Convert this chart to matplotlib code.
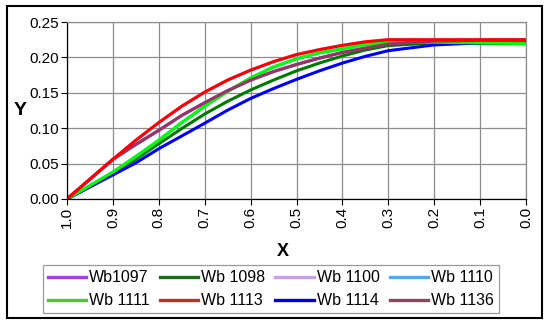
import matplotlib
matplotlib.use("Agg")
import matplotlib.pyplot as plt
from matplotlib.patches import Rectangle
from matplotlib.lines import Line2D

plt.rcParams['font.family'] = ['Liberation Sans', 'DejaVu Sans']

x = [1.0, 0.9, 0.85, 0.8, 0.75, 0.7, 0.65, 0.6, 0.55, 0.5, 0.45, 0.4, 0.35, 0.3, 0.2, 0.1, 0.0]
wb1113 = [0, 0.056, 0.083, 0.108, 0.131, 0.151, 0.168, 0.182, 0.194, 0.204, 0.211, 0.217, 0.222, 0.225, 0.225, 0.225, 0.225]
wb1111 = [0, 0.038, 0.060, 0.083, 0.108, 0.131, 0.152, 0.171, 0.1865, 0.198, 0.2065, 0.212, 0.218, 0.222, 0.2215, 0.2205, 0.2195]
wb1136 = [0, 0.056, 0.077, 0.097, 0.118, 0.136, 0.153, 0.168, 0.180, 0.190, 0.199, 0.207, 0.213, 0.219, 0.223, 0.224, 0.2243]
wb1098 = [0, 0.035, 0.056, 0.078, 0.0995, 0.120, 0.138, 0.154, 0.168, 0.181, 0.192, 0.202, 0.2105, 0.2167, 0.2205, 0.2195, 0.2195]
wb1114 = [0, 0.034, 0.051, 0.071, 0.089, 0.107, 0.1255, 0.142, 0.156, 0.169, 0.181, 0.192, 0.2015, 0.2095, 0.2176, 0.2205, 0.2214]
# series hidden beneath the visible curves
wb1097 = list(wb1136)
wb1100 = list(wb1113)
wb1110 = list(wb1111)

xticks = [1.0, 0.9, 0.8, 0.7, 0.6, 0.5, 0.4, 0.3, 0.2, 0.1, 0.0]
yticks = [0.00, 0.05, 0.10, 0.15, 0.20, 0.25]

W, H = 550, 327
fig = plt.figure(figsize=(5.5, 3.27), dpi=100)
fig.patch.set_facecolor('white')
fig.patches.append(Rectangle((7 / W, 1 - 318 / H), 535 / W, 312 / H, transform=fig.transFigure,
                             fill=False, edgecolor='black', linewidth=1.5, zorder=0))

ax = fig.add_axes([67 / W, 1 - 199 / H, (526 - 67) / W, (199 - 22) / H])

lw = 2.2
series = [
    ("Wb1097", wb1097, '#A040E0'),
    ("Wb 1100", wb1100, '#C8A0E8'),
    ("Wb 1110", wb1110, '#40A8F0'),
    ("Wb 1098", wb1098, '#007A00'),
    ("Wb 1114", wb1114, '#0000FF'),
    ("Wb 1111", wb1111, '#00FF00'),
    ("Wb 1136", wb1136, '#993366'),
    ("Wb 1113", wb1113, '#FF0000'),
]
for name, ys, c in series:
    ax.plot(x, ys, color=c, linewidth=lw, solid_capstyle='butt', solid_joinstyle='round')

ax.set_xlim(1.0, 0.0)
ax.set_ylim(0, 0.25)
ax.set_xticks(xticks)
ax.set_xticklabels([f"{v:.1f}" for v in xticks], rotation=90, fontsize=11)
ax.set_yticks(yticks)
ax.set_yticklabels([f"{v:.2f}" for v in yticks], fontsize=11)
ax.grid(True, color='#8c8c8c', linewidth=0.9)
ax.set_axisbelow(True)
ax.tick_params(direction='out', length=4, width=0.8, color='black', pad=2)
for s in ['top', 'right']:
    ax.spines[s].set_color('#8c8c8c')
    ax.spines[s].set_linewidth(0.9)
for s in ['left', 'bottom']:
    ax.spines[s].set_color('black')
    ax.spines[s].set_linewidth(0.9)

fig.text(20 / W, 1 - 110 / H, "Y", fontsize=14, fontweight='bold', ha='center', va='center')
fig.text(283 / W, 1 - 251 / H, "X", fontsize=13, fontweight='bold', ha='center', va='center')

order = ["Wb1097", "Wb 1111", "Wb 1098", "Wb 1113", "Wb 1100", "Wb 1114", "Wb 1110", "Wb 1136"]
leg_colors = {"Wb1097": '#A040E0', "Wb 1098": '#1E6B1E', "Wb 1100": '#C8A0E8', "Wb 1110": '#50A8F0',
              "Wb 1111": '#50C830', "Wb 1113": '#C03020', "Wb 1114": '#0000E0', "Wb 1136": '#8C4660'}
lh = [Line2D([], [], color=leg_colors[n], linewidth=2.4) for n in order]
leg = fig.legend(lh, order, loc='lower left', ncol=4,
                 bbox_to_anchor=(43 / W, 1 - 313 / H, 456 / W, 49 / H), mode='expand',
                 borderaxespad=0, fontsize=11.5, frameon=True, fancybox=False,
                 handlelength=2.4, handletextpad=0.2, columnspacing=0.8, labelspacing=0.5,
                 borderpad=0.3)
leg.get_frame().set_edgecolor('#808080')
leg.get_frame().set_linewidth(0.9)

fig.savefig("out.png", dpi=100)
